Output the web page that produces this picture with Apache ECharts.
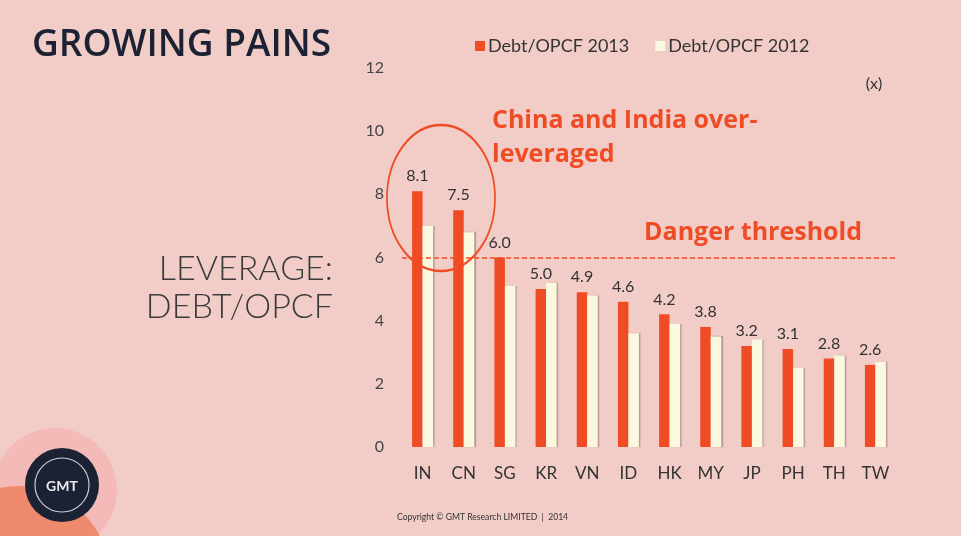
<!DOCTYPE html>
<html>
<head>
<meta charset="utf-8">
<script src="https://cdn.jsdelivr.net/npm/echarts@6/dist/echarts.min.js"></script>
<style>
  html, body { margin: 0; padding: 0; background: #f2cdc7; }
  #chart { width: 961px; height: 536px; }
</style>
</head>
<body>
<div id="chart"></div>
<script>
// data
var countries = ["IN", "CN", "SG", "KR", "VN", "ID", "HK", "MY", "JP", "PH", "TH", "TW"];
var debt2013 = [8.1, 7.5, 6.0, 5.0, 4.9, 4.6, 4.2, 3.8, 3.2, 3.1, 2.8, 2.6];
var debt2012 = [7.0, 6.8, 5.1, 5.2, 4.8, 3.6, 3.9, 3.5, 3.4, 2.5, 2.9, 2.7];
var dangerLevel = 6;
var yTicks = [0, 2, 4, 6, 8, 10, 12];

var ORANGE = "#ef4b24";
var CREAM = "#fbf8e0";
var NAVY = "#1b2233";
var FONT = "Lato, 'Open Sans', sans-serif";
var BOLD_FONT = "'Open Sans', Lato, sans-serif";

var chart = echarts.init(document.getElementById("chart"));

var option = {
  backgroundColor: "#f2cdc7",
  textStyle: { fontFamily: FONT, color: "#333" },
  animation: false,
  grid: { left: 402, right: 65, top: 68, bottom: 89 },
  legend: {
    left: 470,
    top: 32,
    itemWidth: 10,
    itemHeight: 10,
    itemGap: 26,
    icon: "rect",
    textStyle: { fontSize: 18, color: "#333", fontFamily: FONT, padding: [0, 0, 0, -2] },
    data: ["Debt/OPCF 2013", "Debt/OPCF 2012"]
  },
  xAxis: {
    type: "category",
    data: countries,
    axisLine: { show: false },
    axisTick: { show: false },
    axisLabel: { fontSize: 17, color: "#333", margin: 18 }
  },
  yAxis: {
    type: "value",
    min: yTicks[0],
    max: yTicks[yTicks.length - 1],
    interval: 2,
    splitLine: { show: false },
    axisLine: { show: false },
    axisLabel: { fontSize: 16, color: "#444", margin: 18 }
  },
  series: [
    {
      name: "Debt/OPCF 2013",
      type: "bar",
      data: debt2013,
      barWidth: 10.5,
      barGap: "0%",
      itemStyle: { color: ORANGE },
      label: {
        show: true,
        position: "top",
        distance: 7,
        fontSize: 16,
        color: "#333",
        formatter: function (p) { return p.value.toFixed(1); }
      },
      markLine: {
        symbol: "none",
        silent: true,
        label: { show: false },
        lineStyle: { color: ORANGE, type: [5, 3], width: 1.5 },
        data: [{ yAxis: dangerLevel }]
      }
    },
    {
      name: "Debt/OPCF 2012",
      type: "bar",
      data: debt2012,
      barWidth: 10.5,
      itemStyle: {
        color: CREAM,
        shadowColor: "rgba(80,60,60,0.35)",
        shadowOffsetX: 1.5,
        shadowBlur: 1
      }
    }
  ],
  graphic: {
    elements: [
      // logo decorations
      { type: "circle", shape: { cx: 55, cy: 490, r: 62 }, style: { fill: "#f4bab7" }, z: -1 },
      { type: "circle", shape: { cx: 18, cy: 578, r: 92 }, style: { fill: "#f08a6e" }, z: -1 },
      { type: "circle", shape: { cx: 62, cy: 485, r: 37 }, style: { fill: NAVY } },
      { type: "circle", shape: { cx: 62, cy: 485, r: 27 }, style: { fill: "none", stroke: "#c9ccd4", lineWidth: 1.2 } },
      {
        type: "text", x: 62, y: 486,
        style: { text: "GMT", fill: "#e8e8ec", fontSize: 14, fontWeight: "bold", fontFamily: FONT, align: "center", verticalAlign: "middle" }
      },
      // title
      {
        type: "text", left: 32, top: 27,
        style: { text: "GROWING PAINS", fill: NAVY, fontSize: 37, fontWeight: 600, fontFamily: BOLD_FONT }
      },
      // axis title
      {
        type: "text", x: 333, y: 288,
        style: {
          text: "LEVERAGE:\nDEBT/OPCF", fill: "#3a3a3a", fontSize: 34, fontWeight: 300,
          fontFamily: FONT, align: "right", verticalAlign: "middle", lineHeight: 38
        }
      },
      {
        type: "text", x: 874, y: 84,
        style: { text: "(x)", fill: "#333", fontSize: 16, fontFamily: FONT, align: "center", verticalAlign: "middle" }
      },
      // annotations
      {
        type: "text", x: 492, y: 138,
        style: {
          text: "China and India over-\nleveraged", fill: ORANGE, fontSize: 25, fontWeight: "bold",
          fontFamily: BOLD_FONT, verticalAlign: "middle", lineHeight: 34
        }
      },
      {
        type: "text", x: 862, y: 233,
        style: {
          text: "Danger threshold", fill: ORANGE, fontSize: 25, fontWeight: "bold",
          fontFamily: BOLD_FONT, align: "right", verticalAlign: "middle"
        }
      },
      {
        type: "circle", x: 441, y: 198, scaleX: 0.74,
        shape: { cx: 0, cy: 0, r: 73 },
        style: { fill: "none", stroke: ORANGE, lineWidth: 2.3, strokeNoScale: true },
        z: 10
      },
      {
        type: "text", x: 397, y: 517,
        style: { text: "Copyright © GMT Research LIMITED  |  2014", fill: "#333", fontSize: 8.6, fontFamily: FONT, verticalAlign: "middle" }
      }
    ]
  }
};

chart.setOption(option);
</script>
</body>
</html>
